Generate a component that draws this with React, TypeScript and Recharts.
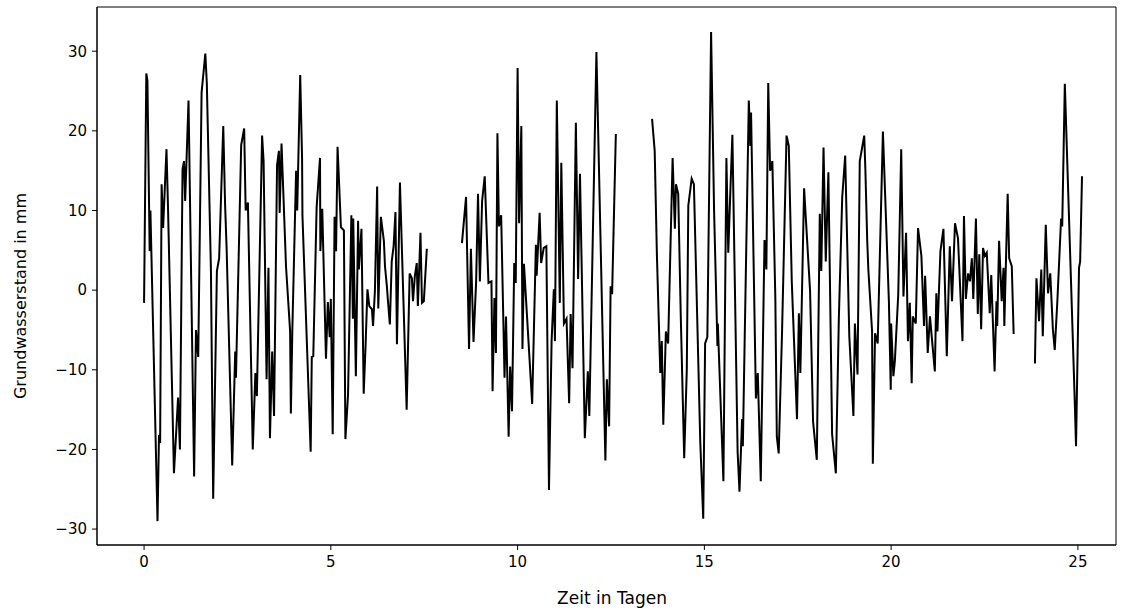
import { LineChart, Line, XAxis, YAxis, ReferenceArea } from "recharts";

// groundwater level readings, four recording periods separated by outages
const seg1Days = [
  0.0, 0.06, 0.09, 0.15, 0.17, 0.36, 0.4, 0.43, 0.47, 0.51, 0.6, 0.64, 0.8, 0.91, 0.96, 1.03, 1.07, 1.1, 1.19,
  1.34, 1.39, 1.45, 1.54, 1.64, 1.68, 1.79, 1.85, 1.95, 2.01, 2.12, 2.17, 2.21, 2.36, 2.44, 2.46, 2.6, 2.68,
  2.72, 2.78, 2.91, 2.98, 3.02, 3.16, 3.2, 3.28, 3.33, 3.37, 3.43, 3.48, 3.56, 3.61, 3.63, 3.68, 3.8, 3.91,
  3.93, 3.97, 4.07, 4.1, 4.18, 4.23, 4.24, 4.46, 4.49, 4.53, 4.62, 4.71, 4.72, 4.77, 4.87, 4.92, 4.97, 5.0,
  5.05, 5.1, 5.14, 5.18, 5.27, 5.35, 5.39, 5.46, 5.55, 5.59, 5.6, 5.67, 5.73, 5.75, 5.82, 5.88, 5.93, 5.98,
  6.03, 6.1, 6.13, 6.18, 6.24, 6.27, 6.34, 6.42, 6.45, 6.5, 6.53, 6.58, 6.63, 6.68, 6.73, 6.77, 6.85, 7.03,
  7.11, 7.17, 7.2, 7.25, 7.3, 7.33, 7.4, 7.44, 7.49, 7.57,
];
const seg1Level = [
  -1.6, 27.2, 26.3, 4.9, 10, -29, -18.2, -19.2, 13.3, 7.8, 17.7, 10.6, -23, -13.5, -20, 15.2, 16.2, 11.2, 23.8,
  -23.4, -5, -8.4, 24.8, 29.7, 26, 2.5, -26.2, 2.4, 4, 20.6, 10.6, 5.3, -22, -7.7, -11, 18.2, 20.3, 10, 11,
  -20, -10.4, -13.3, 19.4, 16.2, -11.2, 2.8, -18.6, -7.7, -15.8, 15.7, 17.5, 9.7, 18.4, 3, -5.2, -15.5, -4.9,
  15, 10, 27, 16.6, 9.4, -20.3, -8.4, -8.3, 10.4, 16.6, 4.9, 10.2, -8.6, -1.5, -5.9, -1.1, -18.1, 9.2, 4.9, 18,
  7.9, 7.5, -18.7, -13.2, 9.4, -3.6, 9, -10.8, 8.7, 2.6, 7.7, -13, -7, 0.1, -2, -2.4, -4.5, -0.1, 13, -2.3,
  9.2, 6.2, 3, 0.5, -1.4, -4.3, 3.6, 5.5, 9.8, -6.8, 13.5, -15, 2.1, 1.5, -1.4, 1.8, 3.4, -2, 7.2, -1.6, -1.4,
  5.2,
];

const seg2Days = [
  8.51, 8.62, 8.7, 8.75, 8.82, 8.89, 8.94, 8.99, 9.05, 9.12, 9.22, 9.3, 9.33, 9.38, 9.42, 9.46, 9.5, 9.56,
  9.65, 9.69, 9.76, 9.8, 9.85, 9.91, 9.95, 10.0, 10.04, 10.1, 10.13, 10.17, 10.39, 10.49, 10.51, 10.59, 10.63,
  10.7, 10.77, 10.84, 10.91, 10.97, 11.0, 11.05, 11.13, 11.17, 11.24, 11.31, 11.38, 11.42, 11.47, 11.56,
  11.62, 11.67, 11.8, 11.88, 11.92, 12.11, 12.35, 12.39, 12.45, 12.49, 12.53, 12.63,
];
const seg2Level = [
  5.9, 11.7, -7.4, 5.2, -6.5, 1.1, 12.1, 1.1, 11.2, 14.3, 0.9, 1.1, -12.7, -1, -7.9, 19.7, 8, 9.4, -11, -3.3,
  -18.4, -9.6, -15.2, 3.4, 0.9, 27.9, 8.4, 20.6, -7.4, 3.3, -14.3, 5.7, 1.8, 9.7, 3.4, 5.3, 5.5, -25.1, -6.4,
  0.1, -6.4, 23.8, -1.6, 16, -4.2, -3.6, -14.2, -3, -9.8, 21, 1.4, 14.6, -18.6, -10.2, -15.8, 29.9, -21.4,
  -11.2, -17.1, 0.5, -0.5, 19.6,
];

const seg3Days = [
  13.6, 13.67, 13.73, 13.82, 13.86, 13.9, 13.97, 14.03, 14.15, 14.21, 14.24, 14.3, 14.37, 14.46, 14.53, 14.57,
  14.66, 14.72, 14.89, 14.97, 15.02, 15.08, 15.18, 15.26, 15.35, 15.36, 15.51, 15.59, 15.64, 15.7, 15.75,
  15.89, 15.94, 16.01, 16.03, 16.19, 16.23, 16.25, 16.38, 16.43, 16.51, 16.61, 16.66, 16.71, 16.76, 16.82,
  16.9, 16.94, 16.99, 17.08, 17.2, 17.26, 17.34, 17.48, 17.53, 17.57, 17.67, 17.78, 17.83, 17.91, 18.01,
  18.09, 18.13, 18.19, 18.25, 18.32, 18.42, 18.52, 18.6, 18.69, 18.77, 18.88, 18.99, 19.03, 19.1, 19.16,
  19.28, 19.31, 19.36, 19.39, 19.49, 19.51, 19.57, 19.64, 19.78, 19.94, 19.99, 20.0, 20.06, 20.1, 20.19,
  20.27, 20.33, 20.4, 20.45, 20.5, 20.55, 20.58, 20.66, 20.72, 20.81, 20.88, 20.91, 20.98, 21.04, 21.09,
  21.17, 21.21, 21.24, 21.32, 21.4, 21.49, 21.57, 21.63, 21.71, 21.79, 21.91, 21.95, 22.0, 22.06, 22.11,
  22.16, 22.2, 22.27, 22.32, 22.36, 22.41, 22.46, 22.51, 22.56, 22.64, 22.68, 22.77, 22.82, 22.84, 22.89,
  22.96, 23.01, 23.03, 23.12, 23.16, 23.23, 23.28,
];
const seg3Level = [
  21.5, 17.5, 4.3, -10.4, -6.4, -16.9, -5.2, -6.7, 16.6, 7.7, 13.3, 12.1, -3.6, -21.1, -9.9, 10.6, 14, 13.3,
  -19, -28.7, -6.7, -5.9, 32.4, 10, -7, -4.2, -24, 16.6, 4.7, 13, 19.5, -20.3, -25.3, -16.2, -19.6, 23.8,
  18.1, 22.3, -13.6, -10.4, -24, 6.3, 2.6, 26, 15, 16.2, -1, -18.4, -20.5, -5.2, 19.4, 18.1, 1.1, -16.2,
  -2.9, -10.4, 12.8, 3.9, -0.1, -16.5, -21.3, 9.6, 2.4, 17.9, 3.6, 14.8, -18.1, -23, -3.6, 11.6, 16.9, -5.8,
  -15.8, -4.2, -10.6, 16.2, 19.4, 15.2, 6.2, 2.6, -5.2, -21.8, -5.4, -6.7, 19.9, -1.4, -12.5, -4.2, -10.8,
  -8.9, -0.6, 17.7, -0.8, 7.2, -6.4, -1.6, -11.7, -3.3, -4.2, 7.8, 4.3, -4.5, 1.8, -7.9, -3.3, -6, -10.2,
  -0.4, -5.2, 4.9, 7.7, -8.3, 5.5, -1.4, 8.4, 6.5, -6.4, 9.3, -1.1, 2.1, 1.1, 4, -1.1, 9, -3, 4.5, -4.9, 5.3,
  4.3, 4.7, -2.9, 1.9, -10.2, -1.4, -4.5, 6.2, -1.4, 2.8, -4.5, 12.1, 4, 3, -5.5,
];

const seg4Days = [
  23.85, 23.89, 23.96, 24.02, 24.06, 24.14, 24.2, 24.26, 24.33, 24.38, 24.45, 24.55, 24.58, 24.65, 24.92,
  24.95, 25.03, 25.06, 25.11,
];
const seg4Level = [-9.2, 1.5, -3.9, 2.6, -5.8, 8.2, -0.4, 2.1, -4.9, -7.5, -1.4, 9, 8, 25.9, -14.6, -19.6, 2.8, 3.6, 14.3];

const xTicks = [0, 5, 10, 15, 20, 25];
const yTicks = [-30, -20, -10, 0, 10, 20, 30];

const segments: Array<[number[], number[]]> = [
  [seg1Days, seg1Level],
  [seg2Days, seg2Level],
  [seg3Days, seg3Level],
  [seg4Days, seg4Level],
];

// join the periods, a null row between them breaks the line
const rows: Array<{ t: number; v: number | null }> = [];
segments.forEach(([days, level], i) => {
  if (i > 0) rows.push({ t: (rows[rows.length - 1].t + days[0]) / 2, v: null });
  days.forEach((t, j) => rows.push({ t, v: level[j] }));
});

const X_DOMAIN: [number, number] = [-1.26, 26.02];
const Y_DOMAIN: [number, number] = [-32, 35.55];

const font = "'DejaVu Sans', sans-serif";
const minus = (v: number) => (v < 0 ? `\u2212${Math.abs(v)}` : `${v}`);

export default function App() {
  return (
    <div style={{ position: "absolute", left: 0, top: 0, width: 1126, height: 610, background: "#fff", fontFamily: font }}>
      <LineChart width={1126} height={610} data={rows} margin={{ top: 7, right: 10, bottom: 0, left: 0 }}>
        <XAxis
          dataKey="t"
          type="number"
          domain={X_DOMAIN}
          ticks={xTicks}
          allowDataOverflow
          height={65}
          tickSize={5}
          tickMargin={6}
          stroke="#000"
          tick={{ fill: "#000", fontSize: 15, fontFamily: font }}
        />
        <YAxis
          type="number"
          domain={Y_DOMAIN}
          ticks={yTicks}
          allowDataOverflow
          width={97}
          tickSize={5}
          tickMargin={5}
          stroke="#000"
          tickFormatter={minus}
          tick={{ fill: "#000", fontSize: 15, fontFamily: font }}
        />
        <ReferenceArea x1={X_DOMAIN[0]} x2={X_DOMAIN[1]} y1={Y_DOMAIN[0]} y2={Y_DOMAIN[1]} fill="none" stroke="#000" strokeWidth={1} />
        <Line
          type="linear"
          dataKey="v"
          stroke="#000"
          strokeWidth={2}
          dot={false}
          activeDot={false}
          connectNulls={false}
          isAnimationActive={false}
        />
      </LineChart>
      <div
        style={{
          position: "absolute",
          left: 612,
          top: 598,
          transform: "translate(-50%, -50%)",
          whiteSpace: "nowrap",
          fontSize: 17,
        }}
      >
        Zeit in Tagen
      </div>
      <div
        style={{
          position: "absolute",
          left: 20,
          top: 296,
          transform: "translate(-50%, -50%) rotate(-90deg)",
          whiteSpace: "nowrap",
          fontSize: 16,
        }}
      >
        Grundwasserstand in mm
      </div>
    </div>
  );
}
